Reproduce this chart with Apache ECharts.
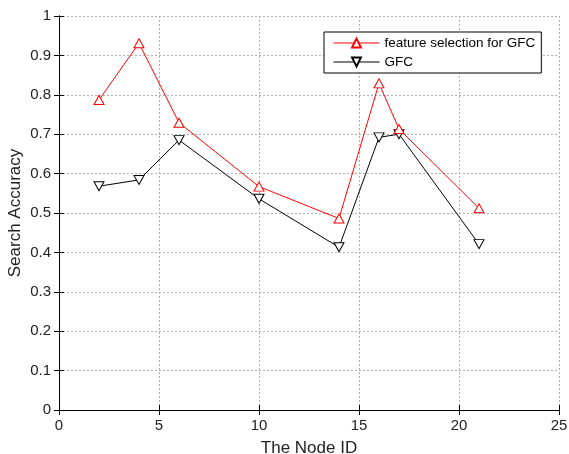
<!DOCTYPE html>
<html>
<head>
  <meta charset="utf-8" />
  <title>Search Accuracy</title>
  <script src="https://cdn.jsdelivr.net/npm/echarts@6.0.0/dist/echarts.min.js"></script>
  <style>
    body { margin: 0; padding: 0; overflow: hidden; background: #fff; }
  </style>
</head>
<body>
  <div id="main" style="width: 569px;height: 454px;"></div>
  <script type="text/javascript">
    // node ids on the x axis
    const nodeIds = [2, 4, 6, 10, 14, 16, 17, 21];
    // search accuracy
    const fsGfc = [0.787, 0.931, 0.729, 0.567, 0.486, 0.829, 0.713, 0.512];
    const gfc = [0.568, 0.584, 0.685, 0.536, 0.413, 0.692, 0.700, 0.421];
    const xTicks = [0, 5, 10, 15, 20, 25];

    const font = 'Liberation Sans, Arial, sans-serif';
    const myChart = echarts.init(document.getElementById('main'));

    function pairs(ys) {
      return nodeIds.map((x, i) => [x, ys[i]]);
    }

    const gridLine = { show: true, lineStyle: { color: '#b0b0b0', type: [2, 2], width: 1 } };
    const axisLine = { show: true, lineStyle: { color: '#000', width: 1 } };
    const tick = { show: true, inside: true, length: 5, lineStyle: { color: '#000' } };

    const option = {
      animation: false,
      textStyle: { fontFamily: font },
      grid: { left: 59, right: 10, top: 16, bottom: 44, outerBoundsMode: 'none' },
      legend: {
        left: 324,
        top: 32,
        orient: 'vertical',
        backgroundColor: '#fff',
        borderColor: '#000',
        borderWidth: 1,
        borderRadius: 0,
        padding: [4, 6, 4, 9],
        itemGap: 5,
        itemWidth: 46,
        itemHeight: 11,
        lineStyle: { width: 1 },
        textStyle: { fontFamily: font, fontSize: 13.5, color: '#000' },
        data: ['feature selection for GFC', 'GFC']
      },
      xAxis: [
        {
          type: 'value',
          min: 0, max: 25, interval: 5,
          name: 'The Node ID',
          nameLocation: 'middle',
          nameGap: 30,
          nameMoveOverlap: false,
          nameTextStyle: { fontFamily: font, fontSize: 17, color: '#222' },
          axisLine: axisLine,
          axisTick: tick,
          axisLabel: {
            fontFamily: font, fontSize: 15, color: '#222', margin: 8,
            formatter: v => xTicks.includes(v) ? String(v) : ''
          },
          splitLine: gridLine
        },
        {
          type: 'value', position: 'top',
          min: 0, max: 25, interval: 5,
          axisLine: axisLine, axisTick: tick,
          axisLabel: { show: false }, splitLine: { show: false }
        }
      ],
      yAxis: [
        {
          type: 'value',
          min: 0, max: 1, interval: 0.1,
          name: 'Search Accuracy',
          nameLocation: 'middle',
          nameGap: 35,
          nameMoveOverlap: false,
          nameTextStyle: { fontFamily: font, fontSize: 17, color: '#222' },
          axisLine: axisLine,
          axisTick: tick,
          axisLabel: {
            fontFamily: font, fontSize: 15, color: '#222', margin: 8,
            formatter: v => String(Math.round(v * 10) / 10)
          },
          splitLine: gridLine
        },
        {
          type: 'value', position: 'right',
          min: 0, max: 1, interval: 0.1,
          axisLine: axisLine, axisTick: tick,
          axisLabel: { show: false }, splitLine: { show: false }
        }
      ],
      series: [
        {
          name: 'feature selection for GFC',
          type: 'line',
          data: pairs(fsGfc),
          symbol: 'triangle',
          symbolSize: [10, 9],
          color: '#ff0000',
          lineStyle: { color: '#ff0000', width: 1 },
          itemStyle: { color: '#fff', borderColor: '#ff0000', borderWidth: 1 },
          z: 3
        },
        {
          name: 'GFC',
          type: 'line',
          data: pairs(gfc),
          symbol: 'triangle',
          symbolRotate: 180,
          symbolSize: [10, 9],
          color: '#000',
          lineStyle: { color: '#000', width: 1 },
          itemStyle: { color: '#fff', borderColor: '#000', borderWidth: 1 },
          z: 2
        }
      ]
    };
    myChart.setOption(option);
  </script>
</body>
</html>
